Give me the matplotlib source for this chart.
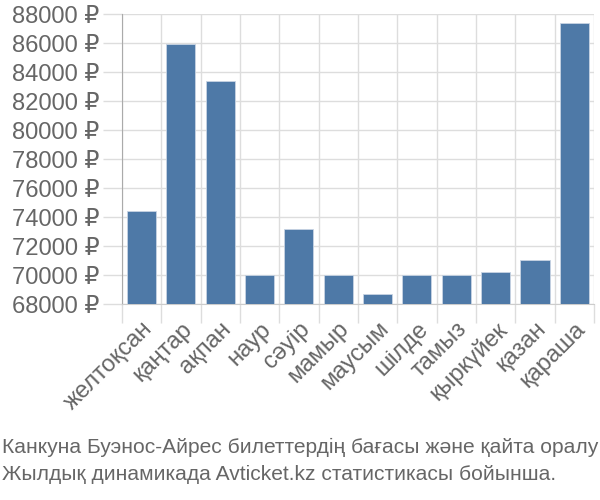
import matplotlib
matplotlib.use("Agg")
import matplotlib.pyplot as plt
from matplotlib.ticker import FuncFormatter, MultipleLocator

months = ["желтоқсан", "қаңтар", "ақпан", "наур", "сәуір", "мамыр",
          "маусым", "шілде", "тамыз", "қыркүйек", "қазан", "қараша"]
prices = [74400, 85900, 83380, 69980, 73150, 69980,
          68710, 69980, 69980, 70230, 71060, 87400]
footer = ["Канкуна Буэнос-Айрес билеттердің бағасы және қайта оралу",
          "Жылдық динамикада Avticket.kz статистикасы бойынша."]

plt.rcParams['font.family'] = ['Liberation Sans', 'DejaVu Sans']
txt = '#666666'
grid = '#dddddd'

fig = plt.figure(figsize=(6, 5), dpi=100)
renderer = fig.canvas.get_renderer()


def fit_size(s, target_px, start=16):
    t = fig.text(0, 0, s, fontsize=start)
    w = t.get_window_extent(renderer).width
    t.remove()
    return start * target_px / w


tick_fs = fit_size("88000 ₽", 88)
foot_fs = fit_size(footer[0], 597)

ax = fig.add_axes([0.203, 0.392, 0.787, 0.58])

x = list(range(len(months)))
ax.bar(x, prices, width=0.74, color='#4e79a7', edgecolor='#c8d4e3', linewidth=0.6, zorder=3)

ax.set_ylim(68000, 88000)
ax.set_xlim(-0.5, 11.5)
ax.yaxis.set_major_locator(MultipleLocator(2000))
ax.yaxis.set_major_formatter(FuncFormatter(lambda v, p: f"{int(v)} ₽"))
ax.set_xticks(x)
ax.set_xticklabels(months, rotation=45, ha='right', rotation_mode='anchor')
ax.set_xticks([i - 0.5 for i in range(13)], minor=True)

ax.grid(axis='y', color=grid, linewidth=1, zorder=0)
ax.grid(axis='x', which='minor', color=grid, linewidth=1, zorder=0)
ax.tick_params(axis='x', which='major', length=0, labelsize=tick_fs, labelcolor=txt, pad=10)
ax.tick_params(axis='x', which='minor', length=14, color=grid, width=1)
ax.tick_params(axis='y', length=14, color=grid, width=1, labelsize=tick_fs, labelcolor=txt, pad=2)

for s in ['top', 'right']:
    ax.spines[s].set_visible(False)
ax.spines['left'].set_color('#aaaaaa')
ax.spines['bottom'].set_color('#cccccc')

fig.text(0.003, 0.105, footer[0], fontsize=foot_fs, color=txt, ha='left', va='center')
fig.text(0.003, 0.05, footer[1], fontsize=foot_fs, color=txt, ha='left', va='center')

fig.savefig('out.png', dpi=100)
